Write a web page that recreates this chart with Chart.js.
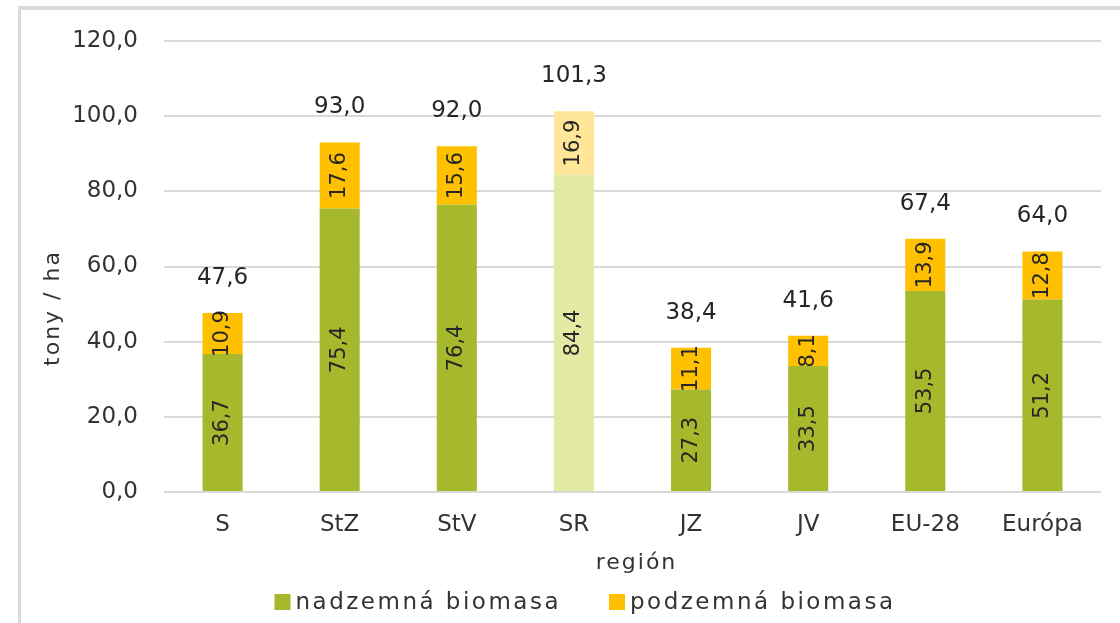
<!DOCTYPE html>
<html><head><meta charset="utf-8">
<script src="https://cdn.jsdelivr.net/npm/chart.js@4.4.1/dist/chart.umd.min.js"></script>
<style>
html,body{margin:0;padding:0;background:#fff;}
#wrap{position:relative;width:1120px;height:623px;overflow:hidden;}
#frame{position:absolute;left:18px;top:6px;width:1200px;height:700px;border-top:4px solid #D9D9D9;border-left:3px solid #D9D9D9;pointer-events:none;}
canvas{position:absolute;left:0;top:0;}
</style></head><body>
<div id="wrap"><canvas id="c" width="1120" height="623"></canvas><div id="frame"></div></div>
<script>
const categories = ['S','StZ','StV','SR','JZ','JV','EU-28','Európa'];
const nadzemna = [36.7,75.4,76.4,84.4,27.3,33.5,53.5,51.2];
const podzemna = [10.9,17.6,15.6,16.9,11.1,8.1,13.9,12.8];
const totals = [47.6,93.0,92.0,101.3,38.4,41.6,67.4,64.0];
const yTicks = [0,20,40,60,80,100,120];
const seriesNames = ['nadzemná biomasa','podzemná biomasa'];
const xTitle = 'región';
const yTitle = 'tony / ha';

const FONT = '"DejaVu Sans", sans-serif';
const TEXT = '#262626';
const GREEN = '#A6B82B', GREEN_L = '#E2EAA3';
const YELLOW = '#FFC000', YELLOW_L = '#FFE699';
const fmt = v => v.toFixed(1).replace('.', ',');

const labelPlugin = {
  id: 'customLabels',
  afterDatasetsDraw(chart) {
    const ctx = chart.ctx;
    const ca = chart.chartArea;
    ctx.save();
    ctx.fillStyle = TEXT;
    ctx.textAlign = 'center';
    ctx.textBaseline = 'middle';
    // values inside segments (rotated)
    ctx.font = '21px ' + FONT;
    chart.data.datasets.forEach((ds, di) => {
      chart.getDatasetMeta(di).data.forEach((el, i) => {
        const cy = (el.y + el.base) / 2;
        ctx.save();
        ctx.translate(el.x, cy);
        ctx.rotate(-Math.PI / 2);
        ctx.fillText(fmt(ds.data[i]), 0, 0);
        ctx.restore();
      });
    });
    // totals above bars
    ctx.font = '23px ' + FONT;
    const topMeta = chart.getDatasetMeta(chart.data.datasets.length - 1).data;
    topMeta.forEach((el, i) => ctx.fillText(fmt(totals[i]), el.x, el.y - 35));

    // axis titles
    if ('letterSpacing' in ctx) ctx.letterSpacing = '2px';
    ctx.font = '22px ' + FONT;
    ctx.fillStyle = '#333';
    ctx.fillText(xTitle, (ca.left + ca.right) / 2 + 4, ca.bottom + 71);
    ctx.save();
    ctx.translate(53, ca.bottom - 184);
    ctx.rotate(-Math.PI / 2);
    ctx.fillText(yTitle, 0, 0);
    ctx.restore();

    // legend
    if ('letterSpacing' in ctx) ctx.letterSpacing = '2.5px';
    ctx.font = '23px ' + FONT;
    ctx.textAlign = 'left';
    const colors = [GREEN, YELLOW];
    const box = 16, gapBox = 5, gapItem = 48;
    const widths = seriesNames.map(n => ctx.measureText(n).width);
    let total = 0;
    widths.forEach((w, i) => { total += box + gapBox + w + (i < widths.length - 1 ? gapItem : 0); });
    let x = 585 - total / 2;
    const ly = ca.bottom + 110;
    seriesNames.forEach((n, i) => {
      ctx.fillStyle = colors[i];
      ctx.fillRect(x, ly - box / 2, box, box);
      ctx.fillStyle = '#333';
      ctx.fillText(n, x + box + gapBox, ly + 1);
      x += box + gapBox + widths[i] + gapItem;
    });
    ctx.restore();
  }
};

new Chart(document.getElementById('c'), {
  type: 'bar',
  data: {
    labels: categories,
    datasets: [
      { label: seriesNames[0], data: nadzemna,
        backgroundColor: categories.map(c => c === 'SR' ? GREEN_L : GREEN),
        barPercentage: 0.342, categoryPercentage: 1 },
      { label: seriesNames[1], data: podzemna,
        backgroundColor: categories.map(c => c === 'SR' ? YELLOW_L : YELLOW),
        barPercentage: 0.342, categoryPercentage: 1 }
    ]
  },
  options: {
    responsive: false,
    animation: false,
    devicePixelRatio: 1,
    layout: { padding: { top: 41, right: 19, left: 0, bottom: 0 } },
    plugins: { legend: { display: false }, tooltip: { enabled: false } },
    scales: {
      x: {
        stacked: true,
        grid: { display: false, drawTicks: false },
        border: { display: false },
        ticks: { padding: 19, color: '#333', font: { family: FONT, size: 23 } },
        afterFit(s) { s.height = 131; }
      },
      y: {
        stacked: true, min: 0, max: 120,
        afterBuildTicks(s) { s.ticks = yTicks.map(v => ({ value: v })); },
        grid: { color: '#D9D9D9', lineWidth: 2, drawTicks: false },
        border: { display: false },
        ticks: { padding: 26, color: '#333', font: { family: FONT, size: 23 },
                 callback: v => fmt(v) },
        afterFit(s) { s.width = 164; }
      }
    }
  },
  plugins: [labelPlugin]
});
</script>
</body></html>
